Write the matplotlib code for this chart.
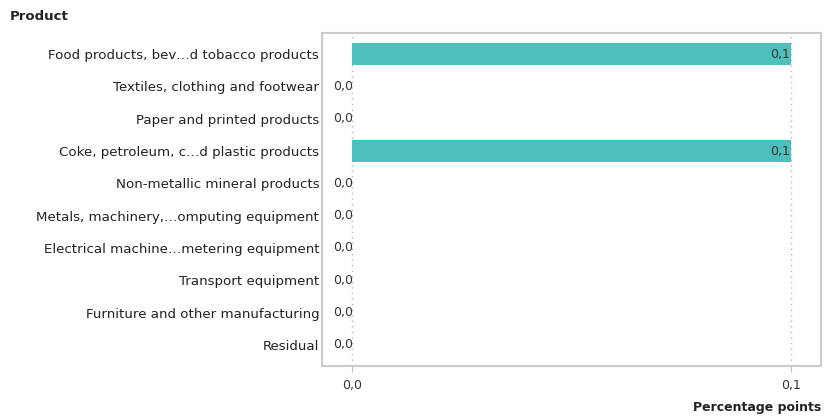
import matplotlib
matplotlib.use("Agg")
import matplotlib.pyplot as plt

# data
products = [
    "Food products, bev\u2026d tobacco products",
    "Textiles, clothing and footwear",
    "Paper and printed products",
    "Coke, petroleum, c\u2026d plastic products",
    "Non-metallic mineral products",
    "Metals, machinery,\u2026omputing equipment",
    "Electrical machine\u2026metering equipment",
    "Transport equipment",
    "Furniture and other manufacturing",
    "Residual",
]
values = [0.1, 0.0, 0.0, 0.1, 0.0, 0.0, 0.0, 0.0, 0.0, 0.0]
labels = ["0,1", "0,0", "0,0", "0,1", "0,0", "0,0", "0,0", "0,0", "0,0", "0,0"]
xticks = [0.0, 0.1]
xticklabels = ["0,0", "0,1"]

plt.rcParams["font.family"] = ["DejaVu Sans"]
plt.rcParams["font.size"] = 9

fig = plt.figure(figsize=(8.26, 4.19), dpi=100)
# axes box: x 322..821, y 33..366 px
ax = fig.add_axes([322 / 826, 1 - 366 / 419, (821 - 322) / 826, (366 - 33) / 419])

ypos = list(range(len(products)))
ax.barh(ypos, values, height=0.68, color="#4dbfbc", zorder=2)

for y, v, lab in zip(ypos, values, labels):
    if v > 0:
        ax.annotate(lab, (v, y), xytext=(-0.5, 0), textcoords="offset points",
                    ha="right", va="center", color="#333333", fontsize=9)
    else:
        ax.annotate(lab, (0, y), xytext=(0.5, 0), textcoords="offset points",
                    ha="right", va="center", color="#333333", fontsize=9)

ax.set_ylim(9.65, -0.65)
ax.set_xlim(-0.00683, 0.10683)
ax.set_yticks(ypos)
ax.set_yticklabels(products, color="#222222", fontsize=9.6)
ax.tick_params(axis="y", length=0, pad=2)
ax.set_xticks(xticks)
ax.set_xticklabels(xticklabels, color="#333333")
ax.tick_params(axis="x", length=4, color="#bbbbbb", pad=5)

for x in xticks:
    ax.axvline(x, color="#b8b8b8", linestyle=(0, (1, 3)), linewidth=1, zorder=1)

for s in ax.spines.values():
    s.set_color("#cccccc")
    s.set_linewidth(1.5)

fig.text(10 / 826, 1 - 17 / 419, "Product", fontweight="bold", fontsize=9.5,
         ha="left", va="center", color="#222222")
fig.text(821 / 826, 1 - 407 / 419, "Percentage points", fontweight="bold",
         fontsize=9, ha="right", va="center", color="#222222")

fig.savefig("out.png", dpi=100)
